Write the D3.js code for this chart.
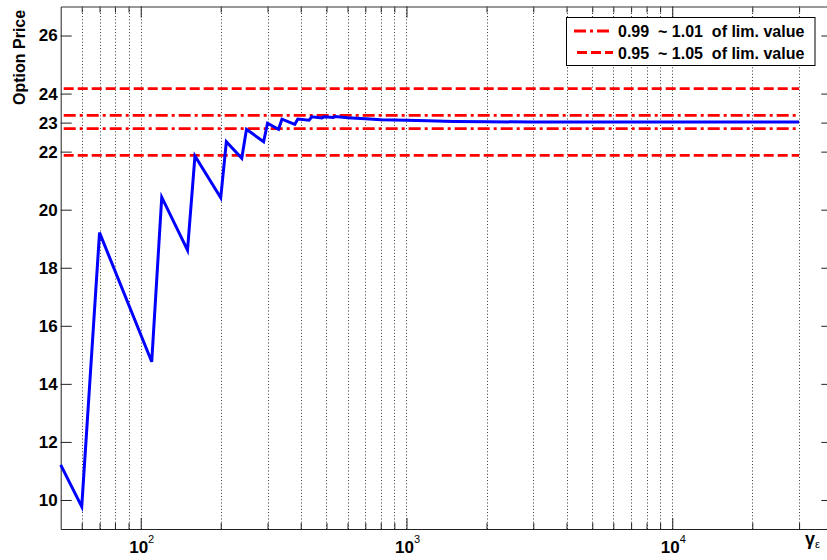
<!DOCTYPE html>
<html>
<head>
<meta charset="utf-8">
<script src="https://cdn.jsdelivr.net/npm/d3@7"></script>
<style>
  html, body { margin: 0; padding: 0; background: #fff; }
  svg { display: block; }
  text { font-family: "Liberation Sans", Arial, sans-serif; font-weight: bold; fill: #000; }
</style>
</head>
<body>
<svg id="chart" width="827" height="560"></svg>
<script>
// Number of steps (log axis) and the option price computed at each step count
const steps  = [50, 60, 70, 110, 120, 150, 160, 200, 210, 240, 250, 290, 300, 330, 340,
                380, 390, 430, 440, 480, 490, 530, 540, 600, 700, 800, 1000, 1200, 1500,
                2000, 3000, 30000];
const prices = [11.21, 9.77, 19.21, 14.76, 20.43, 18.61, 21.85, 20.41, 22.34, 21.77, 22.77,
                22.34, 22.98, 22.77, 23.12, 22.94, 23.12, 23.08, 23.20, 23.16, 23.20, 23.18,
                23.21, 23.17, 23.13, 23.10, 23.08, 23.06, 23.04, 23.03, 23.02, 23.02];

// Limiting value and the tolerance bands drawn around it
const limValue = 23.02;
const bandLow  = [0.99, 0.95];
const bandHigh = [1.01, 1.05];
const bandLabels = ["0.99  ~ 1.01  of lim. value", "0.95  ~ 1.05  of lim. value"];
const bandStart = 50, bandEnd = 30000;

// Axis ticks
const yTicks = [10, 12, 14, 16, 18, 20, 22, 23, 24, 26];
const xMajorTicks = [100, 1000, 10000];
const xMajorExp = ["2", "3", "4"];
const xMinorTicks = [60, 70, 80, 90, 200, 300, 400, 500, 600, 700, 800, 900,
                     2000, 3000, 4000, 5000, 6000, 7000, 8000, 9000, 20000, 30000];

const svg = d3.select("#chart");
const pLeft = 60.7, pRight = 832.3, pTop = 6.5, pBottom = 529;

const x = d3.scaleLog().domain([50, 40000]).range([pLeft, pRight]);
const y = d3.scaleLinear().domain([9, 27]).range([pBottom, pTop]);
const px = v => Math.round(x(v)) + 0.5;

// Vertical dotted grid
svg.append("g").selectAll("line")
  .data(xMinorTicks.concat(xMajorTicks))
  .join("line")
  .attr("x1", d => px(d)).attr("x2", d => px(d))
  .attr("y1", pTop).attr("y2", pBottom)
  .attr("stroke", "#333").attr("stroke-width", 1)
  .attr("stroke-dasharray", "1,2.2");

// Axes: ticks point inward
const axColor = "#222";
function styleAxis(g) {
  g.select(".domain").attr("stroke", axColor).attr("stroke-width", 1);
  g.selectAll(".tick line").attr("stroke", axColor);
}

svg.append("g").attr("transform", `translate(0,${pBottom})`)
  .call(d3.axisBottom(x).tickValues(xMinorTicks).tickSizeInner(-6).tickSizeOuter(0).tickFormat(""))
  .call(styleAxis);
svg.append("g").attr("transform", `translate(0,${pBottom})`)
  .call(d3.axisBottom(x).tickValues(xMajorTicks).tickSizeInner(-11).tickSizeOuter(0).tickFormat(""))
  .call(styleAxis);
svg.append("g").attr("transform", `translate(0,${pTop})`)
  .call(d3.axisTop(x).tickValues(xMinorTicks).tickSizeInner(-6).tickSizeOuter(0).tickFormat(""))
  .call(styleAxis)
  .call(g => g.select(".domain").attr("stroke", "#777"));
svg.append("g").attr("transform", `translate(0,${pTop})`)
  .call(d3.axisTop(x).tickValues(xMajorTicks).tickSizeInner(-11).tickSizeOuter(0).tickFormat(""))
  .call(styleAxis)
  .call(g => g.select(".domain").attr("stroke", "#777"));

const yAxis = svg.append("g").attr("transform", `translate(${pLeft},0)`)
  .call(d3.axisLeft(y).tickValues(yTicks).tickSizeInner(-11).tickSizeOuter(0).tickPadding(3))
  .call(styleAxis);
yAxis.selectAll(".tick text")
  .attr("font-size", 17).attr("font-family", "Liberation Sans, Arial, sans-serif")
  .attr("font-weight", "bold").attr("fill", "#000");

svg.append("g").attr("transform", `translate(${pRight},0)`)
  .call(d3.axisRight(y).tickValues(yTicks).tickSizeInner(-11).tickSizeOuter(0).tickFormat(""))
  .call(styleAxis);

// Power-of-ten labels on the x axis
const xl = svg.append("g").selectAll("text")
  .data(xMajorTicks)
  .join("text")
  .attr("x", d => x(d) + 1).attr("y", 553)
  .attr("text-anchor", "middle")
  .attr("font-size", 17);
xl.append("tspan").text("10");
xl.append("tspan").attr("dy", -10).attr("font-size", 11).attr("font-weight", "normal")
  .text((d, i) => xMajorExp[i]);

// Axis titles
svg.append("text")
  .attr("transform", "translate(25,105) rotate(-90)")
  .attr("font-size", 16)
  .text("Option Price");

const xt = svg.append("text").attr("x", 805).attr("y", 545).attr("font-size", 18);
xt.append("tspan").text("γ");
xt.append("tspan").attr("dy", 3).attr("font-size", 11).attr("font-weight", "normal").text("ε");

// Tolerance bands around the limiting value
const styles = ["12,4,3,4", "10,4"];
const bandLines = [];
bandLow.forEach((f, i) => {
  bandLines.push({ v: limValue * f, dash: styles[i] });
  bandLines.push({ v: limValue * bandHigh[i], dash: styles[i] });
});
svg.append("g").selectAll("line")
  .data(bandLines)
  .join("line")
  .attr("x1", x(bandStart) + 3).attr("x2", x(bandEnd))
  .attr("y1", d => y(d.v)).attr("y2", d => y(d.v))
  .attr("stroke", "#ff0000").attr("stroke-width", 2.8)
  .attr("stroke-dasharray", d => d.dash);

// Price curve
const line = d3.line().x(d => x(d[0])).y(d => y(d[1]));
svg.append("path")
  .datum(steps.map((s, i) => [s, prices[i]]))
  .attr("d", line)
  .attr("fill", "none")
  .attr("stroke", "#0000ff")
  .attr("stroke-width", 3)
  .attr("stroke-linejoin", "miter");

// Legend
const lg = svg.append("g");
lg.append("rect")
  .attr("x", 566.5).attr("y", 17.5).attr("width", 248.5).attr("height", 48)
  .attr("fill", "#fff").attr("stroke", "#000").attr("stroke-width", 1);
bandLabels.forEach((t, i) => {
  const cy = 31 + i * 21.5;
  lg.append("line")
    .attr("x1", i === 0 ? 574 : 577).attr("x2", 613)
    .attr("y1", cy).attr("y2", cy)
    .attr("stroke", "#ff0000").attr("stroke-width", 2.8)
    .attr("stroke-dasharray", styles[i]);
  lg.append("text")
    .attr("x", 618).attr("y", cy + 6)
    .attr("font-size", 16)
    .attr("xml:space", "preserve")
    .style("white-space", "pre")
    .text(t);
});
</script>
</body>
</html>
